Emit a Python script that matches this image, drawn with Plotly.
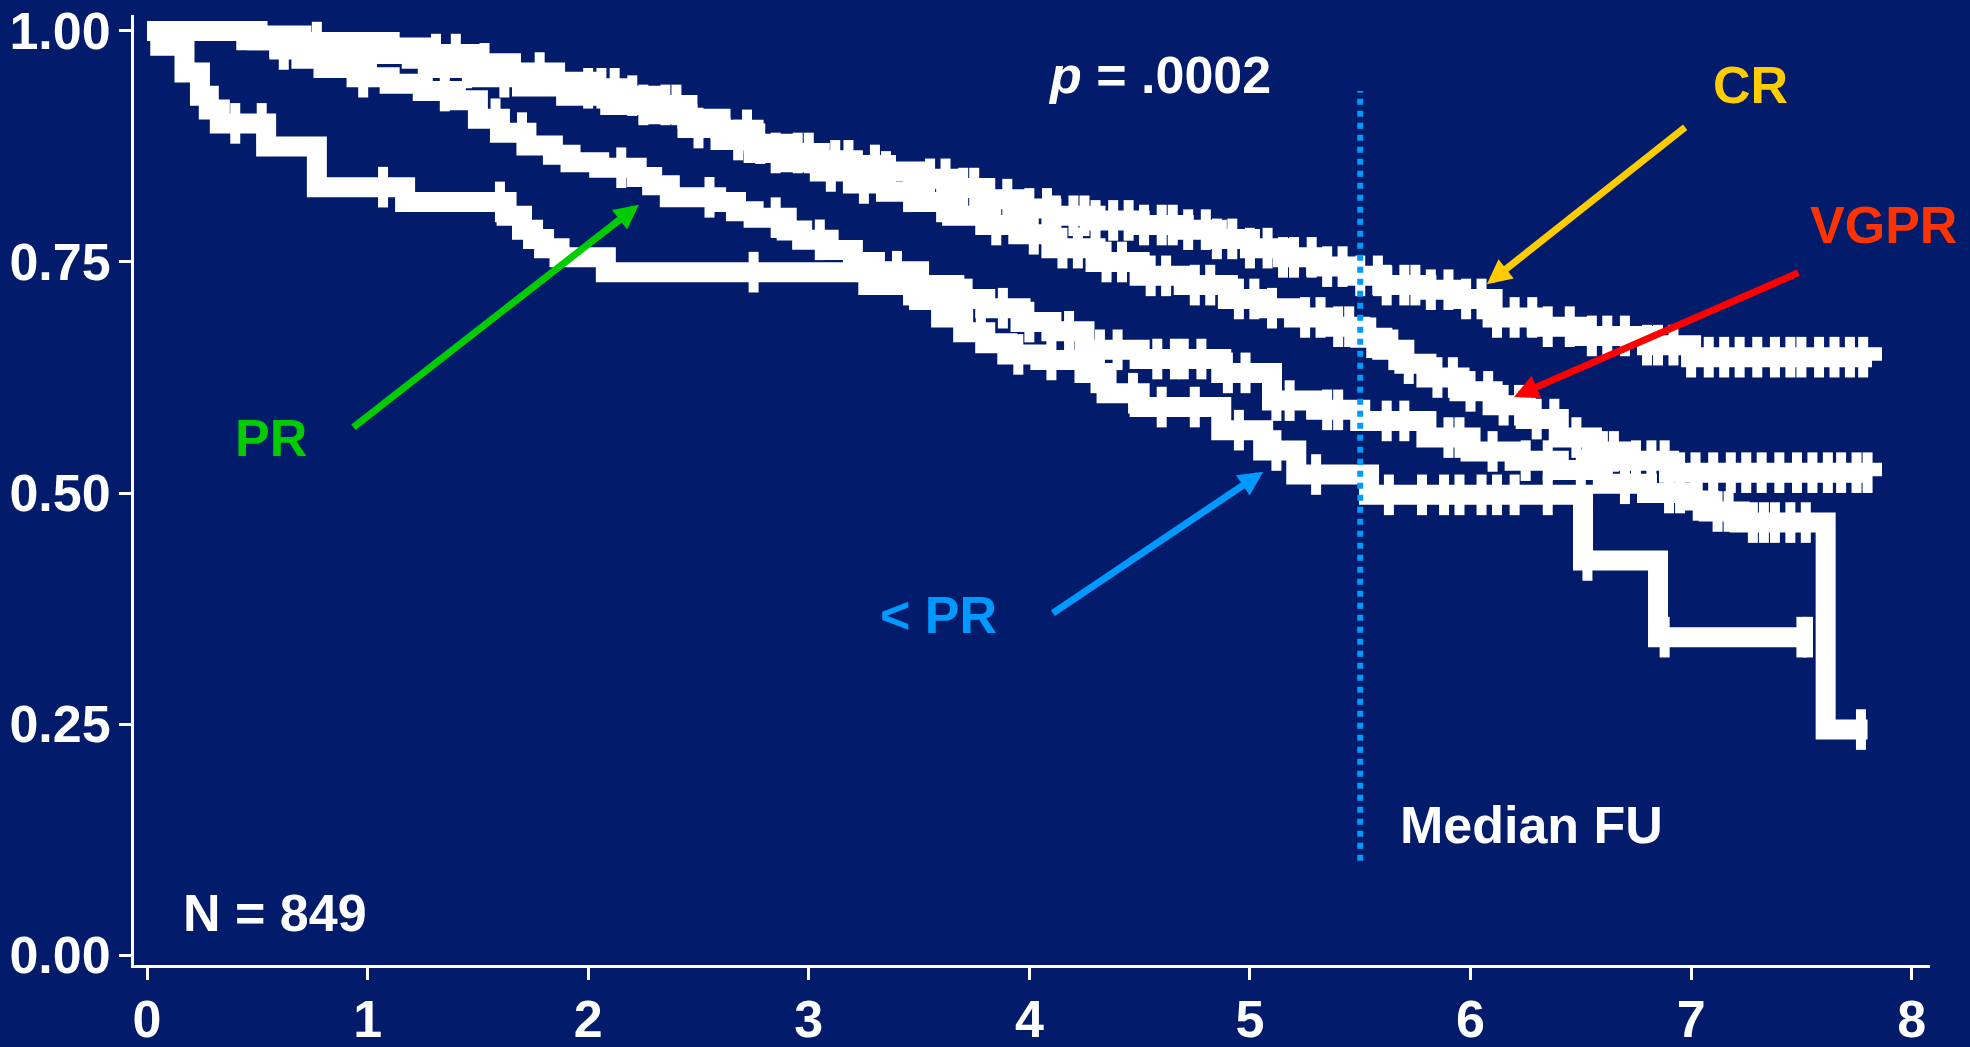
import plotly.graph_objects as go

BG = "#021C6B"
WHITE = "#FFFFFF"
FONT = "Liberation Sans, Arial, sans-serif"

# ---- Kaplan-Meier step data (years, survival) ----
cr_t = [0, 0.5, 0.7, 1.1, 1.25, 1.5, 1.65, 1.85, 2.0, 2.15, 2.3, 2.45, 2.6, 2.75, 2.9, 3.05, 3.2, 3.35, 3.5,
        3.65, 3.8, 3.95, 4.1, 4.3, 4.5, 4.7, 4.85, 5.0, 5.15, 5.3, 5.45, 5.6, 5.8, 5.95, 6.1, 6.3, 6.5, 6.8,
        7.0, 7.82]
cr_s = [1.0, 0.995, 0.988, 0.982, 0.975, 0.965, 0.955, 0.945, 0.938, 0.93, 0.92, 0.905, 0.893, 0.878, 0.868,
        0.86, 0.855, 0.848, 0.84, 0.83, 0.818, 0.808, 0.80, 0.795, 0.79, 0.785, 0.775, 0.765, 0.755, 0.745,
        0.735, 0.725, 0.72, 0.71, 0.69, 0.68, 0.67, 0.66, 0.647, 0.643]
cr_cens = [0.77, 1.31, 1.40, 1.53, 1.78, 2.0, 2.06, 2.12, 2.2, 2.35, 2.4, 2.72, 2.78, 2.95, 3.0, 3.12, 3.18,
           3.3, 3.35, 3.55, 3.62, 3.7, 3.75, 3.9, 4.0, 4.08, 4.12, 4.2, 4.25, 4.3, 4.38, 4.45, 4.52, 4.6, 4.65,
           4.72, 4.8, 4.85, 4.92, 5.0, 5.08, 5.15, 5.2, 5.28, 5.35, 5.42, 5.5, 5.58, 5.62, 5.7, 5.75, 5.82,
           5.9, 5.98, 6.05, 6.12, 6.2, 6.28, 6.35, 6.45, 6.55, 6.62, 6.7, 6.8, 6.85, 6.92, 7.0, 7.08, 7.15,
           7.22, 7.3, 7.38, 7.45, 7.5, 7.58, 7.65, 7.72, 7.78]

vgpr_t = [0, 0.45, 0.6, 0.85, 1.2, 1.3, 1.5, 1.7, 1.9, 2.1, 2.3, 2.45, 2.6, 2.75, 2.9, 3.05, 3.2, 3.35, 3.5,
          3.65, 3.8, 3.95, 4.1, 4.3, 4.5, 4.7, 4.9, 5.05, 5.2, 5.35, 5.5, 5.6, 5.7, 5.8, 5.95, 6.1, 6.25, 6.4,
          6.55, 6.7, 6.9, 7.82]
vgpr_s = [1.0, 0.99, 0.982, 0.975, 0.97, 0.96, 0.95, 0.94, 0.93, 0.92, 0.91, 0.895, 0.882, 0.868, 0.858,
          0.848, 0.835, 0.826, 0.815, 0.80, 0.79, 0.78, 0.765, 0.75, 0.735, 0.725, 0.71, 0.70, 0.69, 0.68,
          0.668, 0.655, 0.64, 0.625, 0.61, 0.595, 0.58, 0.56, 0.545, 0.535, 0.522, 0.518]
vgpr_cens = [1.02, 1.25, 1.45, 1.62, 2.25, 2.5, 2.68, 2.85, 3.1, 3.25, 3.45, 3.6, 3.85, 4.02, 4.15, 4.22,
             4.35, 4.42, 4.55, 4.62, 4.75, 4.82, 4.95, 5.02, 5.1, 5.25, 5.32, 5.4, 5.45, 5.55, 5.65, 5.72,
             5.85, 5.92, 6.0, 6.08, 6.15, 6.22, 6.3, 6.38, 6.48, 6.6, 6.65, 6.75, 6.82, 6.88, 6.95, 7.02,
             7.1, 7.18, 7.25, 7.32, 7.4, 7.48, 7.55, 7.62, 7.68, 7.75, 7.8]

pr_t = [0, 0.5, 0.6, 0.7, 0.8, 0.95, 1.1, 1.25, 1.4, 1.5, 1.6, 1.72, 1.84, 1.92, 2.05, 2.22, 2.29, 2.37,
        2.58, 2.67, 2.75, 2.9, 2.97, 3.09, 3.2, 3.3, 3.5, 3.66, 3.8, 3.96, 4.1, 4.25, 4.5, 4.87, 5.1, 5.3,
        5.5, 5.8, 6.0, 6.2, 6.4, 6.6, 6.8, 7.0, 7.08, 7.22, 7.61, 7.8]
pr_s = [1.0, 0.99, 0.98, 0.97, 0.96, 0.95, 0.943, 0.935, 0.925, 0.905, 0.89, 0.876, 0.866, 0.858, 0.852,
        0.842, 0.833, 0.82, 0.815, 0.805, 0.798, 0.784, 0.774, 0.763, 0.75, 0.74, 0.725, 0.71, 0.70, 0.685,
        0.675, 0.655, 0.645, 0.63, 0.60, 0.59, 0.578, 0.56, 0.545, 0.535, 0.525, 0.51, 0.50, 0.492, 0.48,
        0.468, 0.244, 0.244]
pr_cens = [0.62, 0.98, 1.35, 1.58, 1.7, 2.15, 2.55, 2.85, 3.05, 3.4, 3.52, 3.72, 3.88, 4.0, 4.18, 4.32,
           4.4, 4.58, 4.66, 4.7, 4.78, 4.9, 4.98, 5.12, 5.18, 5.35, 5.4, 5.62, 5.7, 5.9, 5.95, 6.1, 6.25,
           6.35, 6.5, 6.58, 6.7, 6.9, 6.95, 7.03, 7.12, 7.17, 7.28, 7.33, 7.38, 7.45, 7.52, 7.77]

lpr_t = [0, 0.06, 0.17, 0.24, 0.28, 0.33, 0.54, 0.77, 1.17, 1.63, 1.7, 1.75, 1.8, 1.87, 2.08, 3.27, 3.5,
         3.6, 3.7, 3.8, 3.9, 4.05, 4.25, 4.35, 4.5, 4.87, 5.06, 5.21, 5.54, 6.51, 6.85, 7.55]
lpr_s = [1.0, 0.984, 0.955, 0.93, 0.915, 0.90, 0.875, 0.831, 0.815, 0.80, 0.785, 0.775, 0.765, 0.755, 0.739,
         0.725, 0.709, 0.69, 0.674, 0.662, 0.65, 0.644, 0.63, 0.608, 0.593, 0.568, 0.546, 0.52, 0.498, 0.427,
         0.344, 0.344]
lpr_cens = [0.4, 0.52, 1.07, 1.6, 2.75, 3.45, 3.58, 3.78, 3.95, 4.1, 4.3, 4.47, 4.6, 4.75, 4.95, 5.12, 5.3,
            5.63, 5.78, 5.88, 5.95, 6.05, 6.12, 6.2, 6.35, 6.53, 6.88, 7.5, 7.53]

median_fu = 5.5

x_ticks = [0, 1, 2, 3, 4, 5, 6, 7, 8]
y_ticks = [0.0, 0.25, 0.5, 0.75, 1.0]


def step_at(ts, ss, t):
    val = ss[0]
    for ti, si in zip(ts, ss):
        if ti <= t:
            val = si
        else:
            break
    return val


fig = go.Figure()
for ts, ss, cens in [(lpr_t, lpr_s, lpr_cens), (pr_t, pr_s, pr_cens),
                     (vgpr_t, vgpr_s, vgpr_cens), (cr_t, cr_s, cr_cens)]:
    fig.add_trace(go.Scatter(x=ts, y=ss, mode="lines", line=dict(color=WHITE, width=20, shape="hv"),
                             hoverinfo="skip", showlegend=False))
    fig.add_trace(go.Scatter(x=cens, y=[step_at(ts, ss, c) for c in cens], mode="markers",
                             marker=dict(symbol="line-ns", size=29, line=dict(color=WHITE, width=10)),
                             hoverinfo="skip", showlegend=False))

fig.add_shape(type="line", x0=median_fu, x1=median_fu, y0=0.102, y1=0.935, xref="x", yref="y",
              line=dict(color="#0099FF", width=6, dash="dot"), layer="above")

def txt(text, x, y, color):
    fig.add_annotation(x=x, y=y, xref="x", yref="y", text=text, showarrow=False,
                       font=dict(family=FONT, size=52, color=color, weight="bold"),
                       xanchor="center", yanchor="middle")

def arrow(x, y, ax, ay, color):
    fig.add_annotation(x=x, y=y, ax=ax, ay=ay, xref="x", yref="y", axref="x", ayref="y", text="",
                       showarrow=True, arrowhead=2, arrowsize=0.7, arrowwidth=7, arrowcolor=color)

txt("<i>p</i> = .0002", 4.592, 0.952, WHITE)
txt("CR", 7.267, 0.942, "#FFCC00")
txt("VGPR", 7.874, 0.790, "#FF3300")
txt("PR", 0.562, 0.560, "#00CC00")
txt("&lt; PR", 3.586, 0.368, "#0099FF")
txt("Median FU", 6.278, 0.141, WHITE)
txt("N = 849", 0.580, 0.046, WHITE)

arrow(6.074, 0.726, 6.98, 0.897, "#FFCC00")
arrow(6.197, 0.604, 7.493, 0.739, "#FF0000")
arrow(2.230, 0.812, 0.929, 0.570, "#00CC00")
arrow(5.06, 0.523, 4.10, 0.369, "#0099FF")

axis_common = dict(showline=True, linecolor=WHITE, linewidth=3, ticks="outside", tickcolor=WHITE,
                   tickwidth=3, ticklen=12, showgrid=False, zeroline=False, automargin=False,
                   tickfont=dict(family=FONT, size=52, color=WHITE, weight="bold"))

fig.update_layout(
    width=1970, height=1047,
    paper_bgcolor=BG, plot_bgcolor=BG,
    margin=dict(l=134, r=40, t=15, b=82, autoexpand=False),
    xaxis=dict(range=[-0.059, 8.083], tickvals=x_ticks, ticktext=[str(v) for v in x_ticks],
               ticklabelstandoff=-5, **axis_common),
    yaxis=dict(range=[-0.0108, 1.0173], tickvals=y_ticks, ticktext=[f"{v:.2f}" for v in y_ticks],
               ticklabelstandoff=-2, **axis_common),
    showlegend=False,
)

fig.write_html("out.html", config={"displayModeBar": False},
               post_script="document.body.style.margin='0';document.body.style.overflow='hidden';"
                           "document.body.style.background='" + BG + "';")
